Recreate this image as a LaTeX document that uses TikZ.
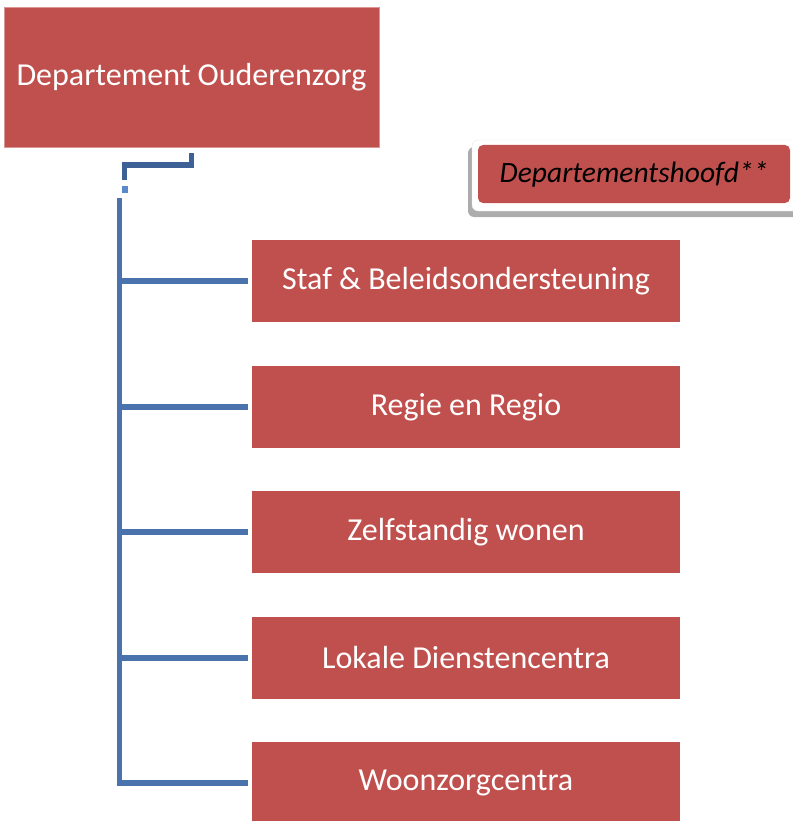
\documentclass[tikz,border=0pt]{standalone}
\usepackage{fontspec}
\setmainfont{Carlito}
\usepackage{tikz}
\usetikzlibrary{calc}
\definecolor{rood}{HTML}{C0504D}
\definecolor{randrood}{HTML}{D99694}
\definecolor{blauw}{HTML}{4A72AC}
\definecolor{donkerblauw}{HTML}{3D6196}
\definecolor{lichtblauw}{HTML}{5A8ACB}
\tikzset{afdeling/.style={rectangle,fill=rood,text=white,minimum width=428pt,minimum height=82pt,inner sep=0pt,font=\fontsize{32}{38}\selectfont}}

\begin{document}
\begin{tikzpicture}
                [x=1pt,y=-1pt,lijn/.style={blauw,line width=5.5pt,line join=miter}]
                \useasboundingbox (0,0) rectangle (792,821);

                \node[afdeling,draw=randrood,minimum width=375pt,minimum height=140pt] (dept) at (191.5,77) {Departement Ouderenzorg};

                % kader met schaduw
                \fill[gray!65,rounded corners=6pt] (468,147) rectangle (800,217);
                \fill[white,draw=gray!20,rounded corners=6pt] (472,140) rectangle (800,211);
                \node[afdeling,rounded corners=5pt,text=black,minimum width=312pt,minimum height=58pt,font=\fontsize{29.5}{34}\itshape] (hoofd) at (634,174) {Departementshoofd**};

                \node[afdeling] (staf) at (466,281) {Staf \& Beleidsondersteuning};
                \node[afdeling] (regie) at (466,407) {Regie en Regio};
                \node[afdeling] (zelf) at (466,532) {Zelfstandig wonen};
                \node[afdeling] (lokaal) at (466,658) {Lokale Dienstencentra};
                \node[afdeling] (woon) at (466,783) {Woonzorgcentra};

                \coordinate (k1) at (124.5,165);
                \coordinate (k2) at (124.5,180);
                \coordinate (top) at (119.5,198);
                \coordinate (t5) at (119.5,783);

                \draw[lijn,donkerblauw,shorten <=6pt] (dept.south) |- (k1) -- (k2);
                \fill[lichtblauw] (121.5,186) rectangle (127.5,193);
                \draw[lijn] (top) -- (t5) -- ([xshift=-4pt]woon.west);
                \foreach \n in {staf,regie,zelf,lokaal}
                    \draw[lijn,shorten >=4pt] (top |- \n.west) -- (\n.west);
            \end{tikzpicture}
\end{document}
